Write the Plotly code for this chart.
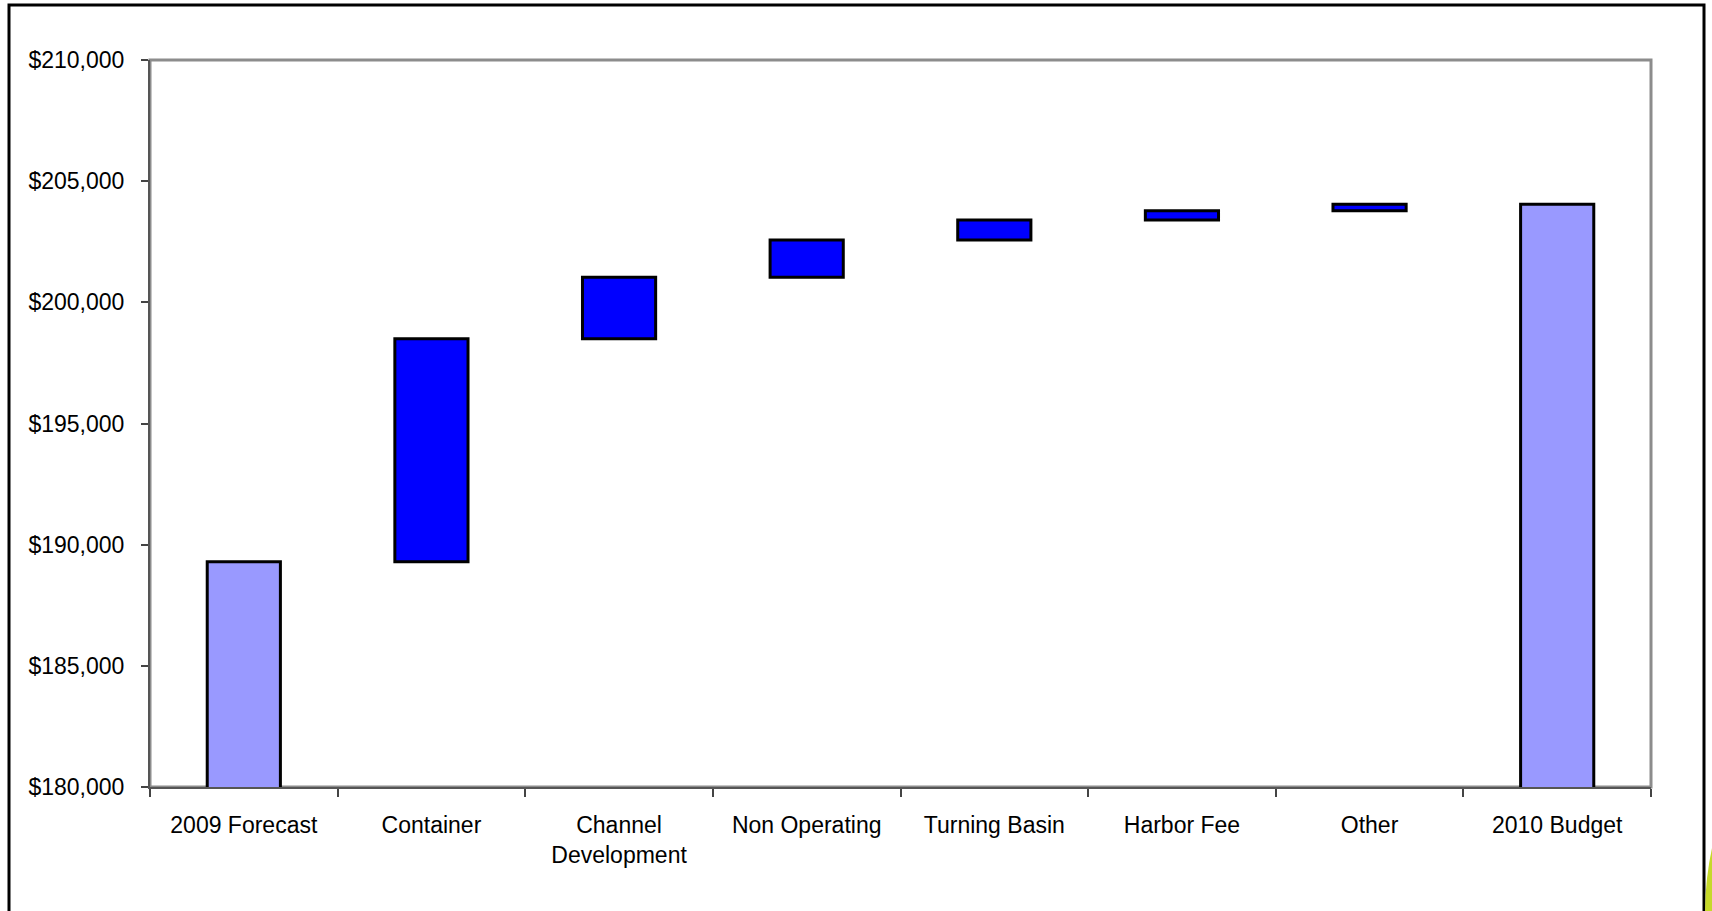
import plotly.graph_objects as go

categories = ["2009 Forecast", "Container", "Channel<br>Development", "Non Operating",
              "Turning Basin", "Harbor Fee", "Other", "2010 Budget"]
start_value = 189300
changes = [9200, 2530, 1540, 830, 380, 270]
end_value = 204050
y_ticks = [180000, 185000, 190000, 195000, 200000, 205000, 210000]
y_tick_labels = ["$180,000", "$185,000", "$190,000", "$195,000", "$200,000", "$205,000", "$210,000"]

# floating bar bases from cumulative sums
bases = []
running = start_value
for c in changes:
    bases.append(running)
    running += c

W, H = 1712, 911
ml, mr, mt, mb = 150, 61, 60, 124
pw, ph = W - ml - mr, H - mt - mb

def px_x(p):
    return (p - ml) / pw

def px_y(p):
    return (H - mb - p) / ph

font = dict(family="Arial, Liberation Sans, sans-serif", size=23, color="black")

fig = go.Figure()
fig.add_trace(go.Bar(
    x=[categories[0], categories[-1]], y=[start_value, end_value], base=[0, 0],
    width=0.39, marker=dict(color="#9999FF", line=dict(color="black", width=3)),
    hoverinfo="y", showlegend=False))
fig.add_trace(go.Bar(
    x=categories[1:-1], y=changes, base=bases,
    width=0.39, marker=dict(color="#0000FF", line=dict(color="black", width=3)),
    showlegend=False))

shapes = [
    # plot-area border (gray)
    dict(type="rect", xref="paper", yref="paper", x0=0, x1=1, y0=0, y1=1,
         line=dict(color="#8c8c8c", width=3), layer="below"),
    # outer black frame
    dict(type="rect", xref="paper", yref="paper",
         x0=px_x(9), x1=px_x(1704), y0=px_y(940), y1=px_y(5),
         line=dict(color="black", width=3), layer="above"),
    # small green swoosh at bottom-right corner
    dict(type="path", xref="paper", yref="paper",
         path=f"M {px_x(1712)} {px_y(848)} Q {px_x(1705)} {px_y(880)} {px_x(1705)} {px_y(915)} "
              f"L {px_x(1714)} {px_y(915)} Z",
         fillcolor="#c6d92a", line=dict(width=0), layer="above"),
]

fig.update_layout(
    width=W, height=H,
    margin=dict(l=ml, r=mr, t=mt, b=mb),
    paper_bgcolor="white", plot_bgcolor="white",
    font=font, barmode="overlay", showlegend=False,
    shapes=shapes,
    xaxis=dict(type="category", categoryorder="array", categoryarray=categories,
               tickson="boundaries", ticks="outside", ticklen=8, tickwidth=2,
               tickcolor="#444", showline=True, linecolor="#555", linewidth=2,
               showgrid=False, zeroline=False, tickfont=font, ticklabelstandoff=16),
    yaxis=dict(range=[180000, 210000], tickvals=y_ticks, ticktext=y_tick_labels,
               ticks="outside", ticklen=7, tickwidth=2, tickcolor="#444",
               showline=True, linecolor="#555", linewidth=2, showgrid=False,
               zeroline=False, tickfont=font, ticklabelstandoff=12),
)

fig.write_html("out.html")
